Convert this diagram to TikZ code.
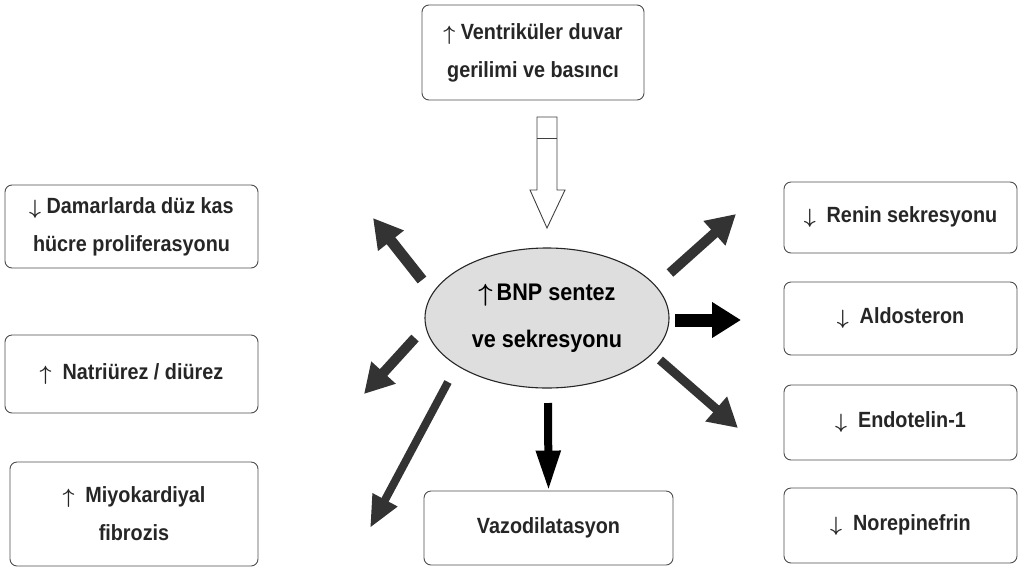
\documentclass[tikz,border=0pt]{standalone}
\usepackage{fontspec}
\setmainfont{Liberation Sans}[FakeStretch=0.9]
\usetikzlibrary{arrows.meta,shapes.geometric}
\newcommand{\upa}{\raisebox{-1pt}{$\boldsymbol{\uparrow}$}}
\newcommand{\dna}{\raisebox{-1pt}{$\boldsymbol{\downarrow}$}}
\usepackage{amsmath}
\begin{document}
\begin{tikzpicture}[x=1pt,y=-1pt,
  box/.style={draw=black!70, line width=0.9pt, rounded corners=7pt, align=center,
    font=\bfseries\fontsize{22}{38}\selectfont, inner sep=0pt, text=black!85},
  bnp/.style={ellipse, draw=black!85, line width=1.1pt, fill=black!13, align=center,
    inner sep=0pt, minimum width=244pt, minimum height=140pt,
    font=\bfseries\fontsize{24}{47}\selectfont},
  bigarr/.style={draw=black!80, line width=11pt, -{Triangle[width=31pt,length=29pt]}},
  hollow/.style={draw=black!75, line width=0.9pt, fill=white}
]
\useasboundingbox (0,0) rectangle (1019,568);

% boxes
\node[box, minimum width=222pt, minimum height=95pt] (top) at (533,52.5)
  {\upa\ Ventriküler duvar\\gerilimi ve basıncı};
\node[box, minimum width=253pt, minimum height=83pt] (l1) at (131.5,226.5)
  {\dna\ Damarlarda düz kas\\hücre proliferasyonu};
\node[box, minimum width=253pt, minimum height=78pt] (l2) at (131.5,374)
  {\upa\ \ Natriürez / diürez};
\node[box, minimum width=248pt, minimum height=104pt] (l3) at (134,514)
  {\upa\ \ Miyokardiyal\\fibrozis};
\node[box, minimum width=249pt, minimum height=74pt] (vazo) at (548.5,528)
  {Vazodilatasyon};
\node[box, minimum width=233pt, minimum height=71pt] (r1) at (900.5,217.5)
  {\dna\ \ Renin sekresyonu};
\node[box, minimum width=233pt, minimum height=73pt] (r2) at (900.5,318.5)
  {\dna\ \ Aldosteron};
\node[box, minimum width=233pt, minimum height=75pt] (r3) at (900.5,422.5)
  {\dna\ \ Endotelin-1};
\node[box, minimum width=233pt, minimum height=75pt] (r4) at (900.5,525.5)
  {\dna\ \ Norepinefrin};

% central ellipse
\node[bnp] (e) at (547,318) {\upa\,BNP sentez\\ve sekresyonu};

% hollow arrow from top box to ellipse
\coordinate (ha) at (537,117);
\coordinate (hb) at (557,117);
\coordinate (hc) at (557,190);
\coordinate (hd) at (565,190);
\coordinate (ht) at (547,228);
\coordinate (he) at (530,190);
\coordinate (hf) at (537,190);
\draw[hollow] (ha) -- (hb) -- (hc) -- (hd) -- (ht) -- (he) -- (hf) -- cycle;
\coordinate (hs1) at (537,138);
\coordinate (hs2) at (557,138);
\draw[hollow] (hs1) -- (hs2);

% thick arrows
\coordinate (ulT) at (422,280); \coordinate (ulH) at (373,218);
\coordinate (lmT) at (415,338); \coordinate (lmH) at (364,394);
\coordinate (llT) at (448,382); \coordinate (llH) at (370,528);
\coordinate (urT) at (670,273); \coordinate (urH) at (736,214);
\coordinate (rT)  at (675,320); \coordinate (rH)  at (741,320);
\coordinate (lrT) at (660,360); \coordinate (lrH) at (738,428);
\coordinate (dT)  at (548,403); \coordinate (dH)  at (vazo.north);

\draw[bigarr] (ulT) -- (ulH);
\draw[bigarr, line width=10pt] (lmT) -- (lmH);
\draw[bigarr, line width=8pt, -{Triangle[width=26pt,length=32pt]}] (llT) -- (llH);
\draw[bigarr, line width=10pt] (urT) -- (urH);
\draw[bigarr, draw=black, line width=13pt, -{Triangle[width=34pt,length=29pt]}] (rT) -- (rH);
\draw[bigarr, line width=9pt] (lrT) -- (lrH);
\draw[bigarr, draw=black, line width=8pt, -{Triangle[width=23pt,length=40pt]}] (dT) -- (dH);
\end{tikzpicture}
\end{document}
